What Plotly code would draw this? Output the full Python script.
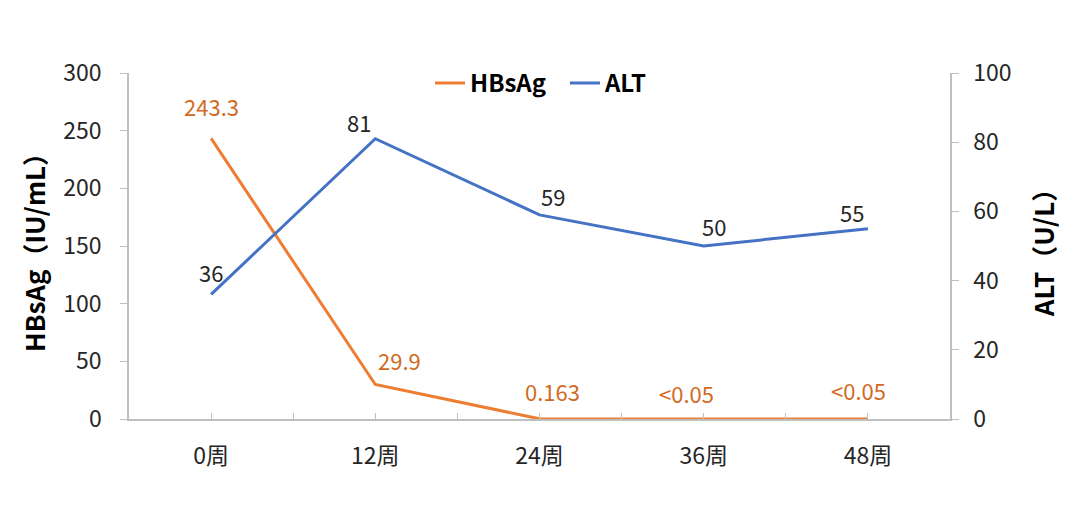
import plotly.graph_objects as go

weeks = ["0周", "12周", "24周", "36周", "48周"]
hbsag = [243.3, 29.9, 0.163, 0.05, 0.05]
hbsag_labels = ["243.3", "29.9", "0.163", "<0.05", "<0.05"]
alt = [36, 81, 59, 50, 55]
alt_labels = ["36", "81", "59", "50", "55"]

FONT = "Noto Sans CJK SC, Microsoft YaHei, sans-serif"
ORANGE = "#ED7D31"
BLUE = "#4472C4"
LABEL_ORANGE = "#D2691E"
AXIS = "#BFBFBF"
TXT = "#262626"

xs = list(range(len(weeks)))

fig = go.Figure()
fig.add_trace(go.Scatter(x=xs, y=hbsag, name="HBsAg", mode="lines",
                         line=dict(color=ORANGE, width=3), yaxis="y"))
fig.add_trace(go.Scatter(x=xs, y=alt, name="ALT", mode="lines",
                         line=dict(color=BLUE, width=3), yaxis="y2"))

# label offsets (pixels)
h_shift = [(0, 32), (24, 25), (13, 28), (-17, 26), (-9, 29)]
a_shift = [(0, 22), (-16, 17), (13, 19), (10, 20), (-16, 17)]
for i, (v, t) in enumerate(zip(hbsag, hbsag_labels)):
    fig.add_annotation(x=xs[i], y=v, yref="y", text=t, showarrow=False,
                       xshift=h_shift[i][0], yshift=h_shift[i][1],
                       font=dict(family=FONT, size=22, color=LABEL_ORANGE))
for i, (v, t) in enumerate(zip(alt, alt_labels)):
    fig.add_annotation(x=xs[i], y=v, yref="y2", text=t, showarrow=False,
                       xshift=a_shift[i][0], yshift=a_shift[i][1],
                       font=dict(family=FONT, size=22, color=TXT))

tickvals = [k * 0.5 for k in range(-1, 2 * len(weeks))]
ticktext = [weeks[int(v)] if v >= 0 and v == int(v) else "" for v in tickvals]

fig.update_layout(
    width=1080, height=511,
    margin=dict(l=129, r=130, t=73, b=92),
    paper_bgcolor="white", plot_bgcolor="white",
    font=dict(family=FONT, size=22, color=TXT),
    showlegend=True,
    legend=dict(orientation="h", x=0.3666, xanchor="left", y=1.035, yanchor="top",
                font=dict(family=FONT, size=24, color="#000000", weight="bold"),
                bgcolor="rgba(0,0,0,0)", itemwidth=30, tracegroupgap=0,
                entrywidth=90, entrywidthmode="pixels"),
    xaxis=dict(range=[-0.5, 4.5], tickmode="array", tickvals=tickvals, ticktext=ticktext,
               showline=True, linecolor=AXIS, linewidth=1.5, ticks="inside", ticklen=6,
               tickcolor=AXIS, showgrid=False, zeroline=False, ticklabelstandoff=16,
               tickfont=dict(family=FONT, size=23, color=TXT)),
    yaxis=dict(range=[0, 300], dtick=50, showline=True, linecolor=AXIS, linewidth=1.5,
               ticks="outside", ticklen=7, tickcolor=AXIS, showgrid=False, zeroline=False,
               ticklabelstandoff=14,
               tickfont=dict(family=FONT, size=23, color=TXT),
               title=dict(text="HBsAg（IU/mL）", standoff=10,
                          font=dict(family=FONT, size=26, color="#000000", weight="bold"))),
    yaxis2=dict(range=[0, 100], dtick=20, overlaying="y", side="right", showline=True,
                linecolor=AXIS, linewidth=1.5, ticks="outside", ticklen=7, tickcolor=AXIS,
                showgrid=False, zeroline=False, ticklabelstandoff=10,
                tickfont=dict(family=FONT, size=23, color=TXT),
                title=dict(text="ALT（U/L）", standoff=25,
                           font=dict(family=FONT, size=26, color="#000000", weight="bold"))),
)

fig.write_html("out.html")
